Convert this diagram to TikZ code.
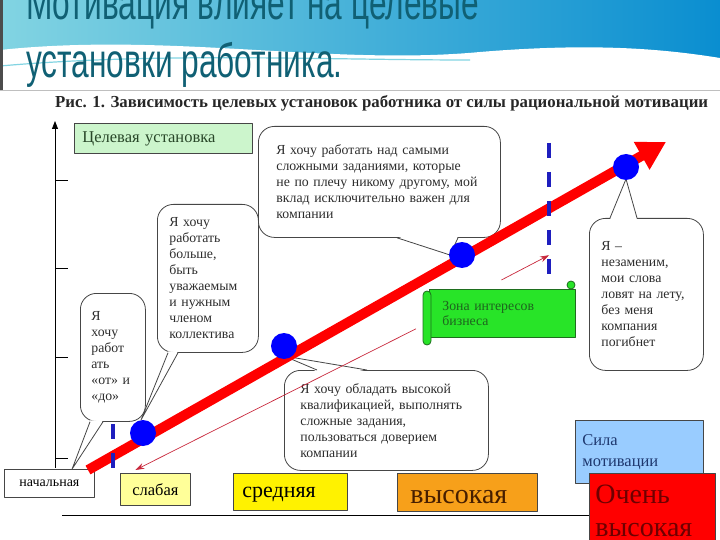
\documentclass[tikz,border=0pt]{standalone}
\usepackage{fontspec}
\setmainfont{Liberation Serif}
\newfontfamily\titlefont{Liberation Sans}
\usetikzlibrary{arrows.meta, positioning, calc}

\definecolor{titleteal}{RGB}{16,96,116}
\definecolor{headleft}{RGB}{130,212,226}
\definecolor{headright}{RGB}{10,142,208}
\definecolor{boxline}{RGB}{70,70,70}
\definecolor{bubbletext}{RGB}{45,45,45}
\definecolor{lightgreen}{RGB}{204,245,204}
\definecolor{goaltext}{RGB}{40,70,40}
\definecolor{paleyellow}{RGB}{255,255,153}
\definecolor{midorange}{RGB}{247,160,26}
\definecolor{darkbrown}{RGB}{70,30,0}
\definecolor{skyblue}{RGB}{153,204,255}
\definecolor{navytext}{RGB}{30,55,110}
\definecolor{darkred}{RGB}{110,0,0}
\definecolor{zonegreen}{RGB}{40,228,40}
\definecolor{zoneedge}{RGB}{30,110,30}
\definecolor{zonetext}{RGB}{30,100,30}
\definecolor{dashblue}{RGB}{30,30,190}
\definecolor{thinred}{RGB}{200,40,60}

\begin{document}
\begin{tikzpicture}[x=1pt, y=-1pt, line join=round,
		title/.style={anchor=base west, inner sep=0pt, text=titleteal, font=\titlefont\fontsize{48}{48}\selectfont},
		levelbox/.style={draw=boxline, line width=0.8pt, anchor=north west, inner ysep=0pt, align=left},
		bubble/.style={draw=boxline, fill=white, line width=0.8pt, rounded corners=16pt, anchor=north west, inner ysep=0pt, align=left, text=bubbletext, font=\fontsize{13.8}{16}\selectfont},
		tail/.style={draw=boxline, line width=0.8pt},
		dot/.style={circle, fill=blue, inner sep=0pt, minimum size=26pt},
		bound/.style={dashblue, line width=3.5pt, dash pattern=on 15pt off 14pt},
		hint/.style={thinred, line width=0.7pt, -{Stealth[length=9pt, width=6pt]}},
		rise/.style={red, line width=10pt, -{Triangle[length=28pt, width=30pt]}},
		zone/.style={draw=zoneedge, fill=zonegreen, line width=0.8pt}]
	\useasboundingbox (0,0) rectangle (720,540);

	% Draw the header band
	\shade[left color=headleft, right color=headright] (0,0) rectangle (720,92);
	\fill[white] (0,50) .. controls (170,32) and (330,66) .. (480,52) .. controls (600,42) and (670,50) .. (720,58) -- (720,92) -- (0,92) -- cycle;
	\draw[headleft, line width=1.2pt] (0,66) .. controls (160,52) and (320,60) .. (470,60);
	\fill[black!70] (0,0) rectangle (2.5,90);
	\draw[black!25] (0,90.5) -- (720,90.5);

	\node[title] (title1) at (26,20) {\scalebox{0.66}[1]{Мотивация влияет на целевые}};
	\node[title] (title2) at (26,78) {\scalebox{0.66}[1]{установки работника.}};

	\node[anchor=west, inner sep=0pt, text=black!85, font=\bfseries\fontsize{16.8}{18}\selectfont] (caption) at (55,103) {Рис. 1. Зависимость целевых установок работника от силы рациональной мотивации};

	% Draw the axes
	\draw[line width=0.8pt, -{Triangle[length=8pt, width=6pt]}] (55,468) -- (55,121);
	\foreach \ty in {180,268,357,458}
		\draw[line width=0.8pt] (55,\ty) -- (68,\ty);
	\draw[line width=0.8pt] (62,515) -- (600,515);

	% Draw the level boxes
	\node[levelbox, fill=lightgreen, minimum width=178pt, minimum height=30pt, text width=162pt, inner xsep=8pt, text=goaltext, font=\fontsize{16.5}{18}\selectfont] (goal) at (74,123) {Целевая установка};
	\node[levelbox, fill=white, minimum width=90pt, minimum height=28pt, text width=90pt, inner xsep=0pt, align=center, font=\fontsize{14}{16}\selectfont] (start) at (4,469) {начальная};
	\node[levelbox, fill=paleyellow, minimum width=70pt, minimum height=32pt, text width=70pt, inner xsep=0pt, align=center, font=\fontsize{16.5}{18}\selectfont] (weak) at (120,473) {слабая};
	\node[levelbox, fill=yellow, minimum width=114pt, minimum height=37pt, text width=96pt, inner xsep=9pt, text height=15pt, font=\fontsize{22}{24}\selectfont] (mid) at (233,473) {средняя};
	\node[levelbox, fill=midorange, minimum width=140pt, minimum height=38pt, text width=114pt, inner xsep=13pt, text height=22pt, text=darkbrown, font=\fontsize{28}{30}\selectfont] (high) at (397,473) {высокая};
	\node[levelbox, fill=skyblue, minimum width=128pt, minimum height=63pt, text width=114pt, inner xsep=7pt, text=navytext, font=\fontsize{16.5}{21}\selectfont] (force) at (575,420) {Сила\\мотивации};
	\node[levelbox, fill=red, minimum width=126pt, minimum height=75pt, text width=114pt, inner xsep=6pt, text=darkred, font=\fontsize{28}{33}\selectfont] (top) at (589,473) {Очень\\высокая};

	% Draw the scroll for the business zone
	\node[zone, anchor=north west, minimum width=146pt, minimum height=48pt, text width=120pt, inner xsep=13pt, inner ysep=0pt, align=left, text=zonetext, font=\fontsize{13.8}{15}\selectfont] (zone) at (429,289) {Зона интересов\\бизнеса};
	\draw[zone, rounded corners=4pt] (423,291) rectangle (431,345);
	\draw[zone] (571,285) circle (4);

	% Points on the motivation line
	\coordinate (pA) at (143,433);
	\coordinate (pB) at (284,346);
	\coordinate (pC) at (462,255);
	\coordinate (pD) at (626,167);

	% Draw the speech bubbles
	\node[bubble, minimum width=65pt, minimum height=128pt, text width=43pt, inner xsep=11pt] (bubA) at (80,293) {Я\\хочу\\работ\\ать\\«от» и\\«до»};
	\node[bubble, minimum width=101pt, minimum height=148pt, text width=77pt, inner xsep=12pt] (bubB) at (157,204) {Я хочу\\работать\\больше,\\быть\\уважаемым\\и нужным\\членом\\коллектива};
	\node[bubble, minimum width=242pt, minimum height=111pt, text width=206pt, inner xsep=18pt] (bubC) at (258,126) {Я хочу работать над самыми\\сложными заданиями, которые\\не по плечу никому другому, мой\\вклад исключительно важен для\\компании};
	\node[bubble, minimum width=114pt, minimum height=152pt, text width=90pt, inner xsep=12pt] (bubD) at (589,218) {Я –\\незаменим,\\мои слова\\ловят на лету,\\без меня\\компания\\погибнет};
	\node[bubble, minimum width=204pt, minimum height=100pt, text width=172pt, inner xsep=16pt] (bubE) at (284,370) {Я хочу обладать высокой\\квалификацией, выполнять\\сложные задания,\\пользоваться доверием\\компании};

	% Draw the bubble tails
	\fill[white] ($(bubA.south west)+(10,-1.5)$) -- ($(start.north)!0.5!(start.north east)$) -- ($(bubA.south west)+(23,-1.5)$) -- cycle;
	\draw[tail] ($(bubA.south west)+(10,0)$) -- ($(start.north)!0.5!(start.north east)$) -- ($(bubA.south west)+(23,0)$);
	\fill[white] ($(bubB.south west)+(11,-1.5)$) -- ($(pA)+(-2,-13)$) -- ($(bubB.south west)+(21,-1.5)$) -- cycle;
	\draw[tail] ($(bubB.south west)+(11,0)$) -- ($(pA)+(-2,-13)$) -- ($(bubB.south west)+(21,0)$);
	\fill[white] ($(bubC.south west)+(139,-1.5)$) -- ($(pC)+(-12,0)$) -- ($(bubC.south west)+(200,-1.5)$) -- cycle;
	\draw[tail] ($(bubC.south west)+(139,0)$) -- ($(pC)+(-12,0)$) -- ($(bubC.south west)+(200,0)$);
	\fill[white] ($(bubD.north west)+(21,1.5)$) -- ($(pD)+(0,12)$) -- ($(bubD.north west)+(48,1.5)$) -- cycle;
	\draw[tail] ($(bubD.north west)+(21,0)$) -- ($(pD)+(0,12)$) -- ($(bubD.north west)+(48,0)$);
	\fill[white] ($(bubE.north west)+(33,1.5)$) -- ($(pB)+(0,10)$) -- ($(bubE.north west)+(83,1.5)$) -- cycle;
	\draw[tail] ($(bubE.north west)+(33,0)$) -- ($(pB)+(0,10)$) -- ($(bubE.north west)+(83,0)$);

	% Bounds of the business zone
	\coordinate (bndA1) at (113,424);
	\coordinate (bndA2) at (113,470);
	\coordinate (bndB1) at (549,143);
	\coordinate (bndB2) at (549,275);

	% Draw the thin arrows from the zone
	\draw[hint] ($(zone.south west)+(-13,-9)$) -- ($(weak.north)+(-20,-3)$);
	\draw[hint] ($(zone.north)+(-1,-9)$) -- ($(bndB1)!0.85!(bndB2)$);

	% Draw the motivation line
	\coordinate (rise0) at (88,470);
	\coordinate (rise1) at (666,142);
	\draw[rise] (rise0) -- (rise1);

	\node[dot] (dotA) at (pA) {};
	\node[dot] (dotB) at (pB) {};
	\node[dot] (dotC) at (pC) {};
	\node[dot] (dotD) at (pD) {};

	\draw[bound] (bndA1) -- (bndA2);
	\draw[bound] (bndB1) -- (bndB2);

\end{tikzpicture}
\end{document}
